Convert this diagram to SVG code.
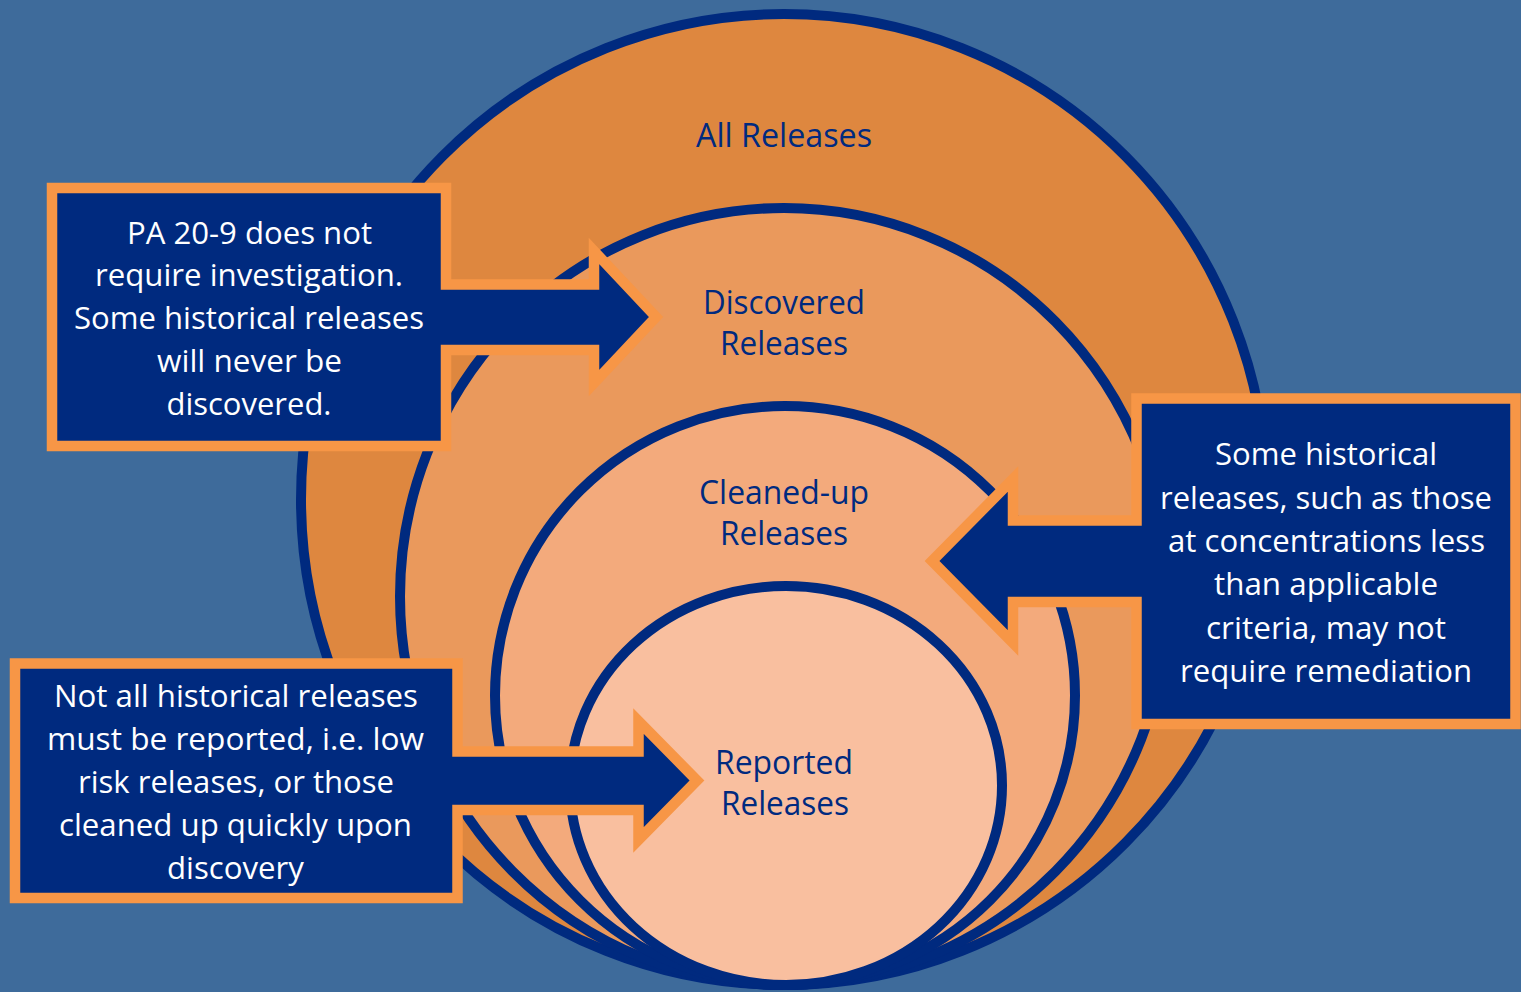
<svg xmlns="http://www.w3.org/2000/svg" width="1521" height="992" viewBox="0 0 1521 992">
  <style>
    .ring { stroke: #002a7f; stroke-width: 10; }
    .callout { fill: #002a7f; stroke: #f79646; stroke-width: 10.5; stroke-linejoin: miter; stroke-miterlimit: 10; }
    .lbl { font-family: "Open Sans", Lato, "Liberation Sans", sans-serif; font-size: 32px; fill: #002a7f; text-anchor: middle; font-variant-ligatures: none; }
    .txt { font-family: "Open Sans", Lato, "Liberation Sans", sans-serif; font-size: 31px; fill: #ffffff; text-anchor: middle; font-variant-ligatures: none; }
  </style>
  <rect width="1521" height="992" fill="#3e6b9b"/>

  <g id="all-releases">
    <ellipse class="ring" cx="784" cy="499.5" rx="483" ry="485.5" fill="#de873f"/>
    <text class="lbl" x="784" y="147" textLength="176" lengthAdjust="spacingAndGlyphs">All Releases</text>
  </g>
  <g id="discovered-releases">
    <ellipse class="ring" cx="784" cy="596.5" rx="384" ry="388.5" fill="#ea995c"/>
    <text class="lbl" x="784" y="314" textLength="162" lengthAdjust="spacingAndGlyphs">Discovered</text>
    <text class="lbl" x="784" y="355" textLength="128" lengthAdjust="spacingAndGlyphs">Releases</text>
  </g>
  <g id="cleaned-up-releases">
    <ellipse class="ring" cx="785" cy="695.5" rx="290" ry="289.5" fill="#f3aa7c"/>
    <text class="lbl" x="784" y="504" textLength="170" lengthAdjust="spacingAndGlyphs">Cleaned-up</text>
    <text class="lbl" x="784" y="545" textLength="128" lengthAdjust="spacingAndGlyphs">Releases</text>
  </g>
  <g id="reported-releases">
    <ellipse class="ring" cx="786" cy="785.5" rx="216" ry="199.5" fill="#f9bf9f"/>
    <text class="lbl" x="784" y="774" textLength="138" lengthAdjust="spacingAndGlyphs">Reported</text>
    <text class="lbl" x="785" y="815" textLength="128" lengthAdjust="spacingAndGlyphs">Releases</text>
  </g>

  <g id="connectors">
    <g id="callout-investigation">
      <path class="callout" d="M52,188 H446 V284.5 H594 V251 L656,317 L594,383 V350 H446 V446 H52 Z"/>
      <text class="txt" x="249.5" y="244" textLength="245" lengthAdjust="spacingAndGlyphs">PA 20-9 does not</text>
      <text class="txt" x="249" y="286" textLength="308" lengthAdjust="spacingAndGlyphs">require investigation.</text>
      <text class="txt" x="249" y="329" textLength="350" lengthAdjust="spacingAndGlyphs">Some historical releases</text>
      <text class="txt" x="249.5" y="372" textLength="185" lengthAdjust="spacingAndGlyphs">will never be</text>
      <text class="txt" x="249" y="415" textLength="165" lengthAdjust="spacingAndGlyphs">discovered.</text>
    </g>
    <g id="callout-remediation">
      <path class="callout" d="M1515.5,398.5 V724 H1136.5 V602 H1013 V643 L932,561 L1013,479 V520.5 H1136.5 V398.5 Z"/>
      <text class="txt" x="1326" y="465" textLength="222" lengthAdjust="spacingAndGlyphs">Some historical</text>
      <text class="txt" x="1326" y="509" textLength="332" lengthAdjust="spacingAndGlyphs">releases, such as those</text>
      <text class="txt" x="1326.5" y="552" textLength="317" lengthAdjust="spacingAndGlyphs">at concentrations less</text>
      <text class="txt" x="1326" y="595" textLength="224" lengthAdjust="spacingAndGlyphs">than applicable</text>
      <text class="txt" x="1326" y="639" textLength="240" lengthAdjust="spacingAndGlyphs">criteria, may not</text>
      <text class="txt" x="1326" y="682" textLength="292" lengthAdjust="spacingAndGlyphs">require remediation</text>
    </g>
    <g id="callout-reporting">
      <path class="callout" d="M15,663.5 H457.5 V751.5 H638.5 V721 L697,780.5 L638.5,840 V810 H457.5 V898 H15 Z"/>
      <text class="txt" x="236" y="707" textLength="364" lengthAdjust="spacingAndGlyphs">Not all historical releases</text>
      <text class="txt" x="235.5" y="750" textLength="377" lengthAdjust="spacingAndGlyphs">must be reported, i.e. low</text>
      <text class="txt" x="236" y="793" textLength="316" lengthAdjust="spacingAndGlyphs">risk releases, or those</text>
      <text class="txt" x="235.5" y="836" textLength="353" lengthAdjust="spacingAndGlyphs">cleaned up quickly upon</text>
      <text class="txt" x="235.5" y="879" textLength="137" lengthAdjust="spacingAndGlyphs">discovery</text>
    </g>
  </g>
</svg>
